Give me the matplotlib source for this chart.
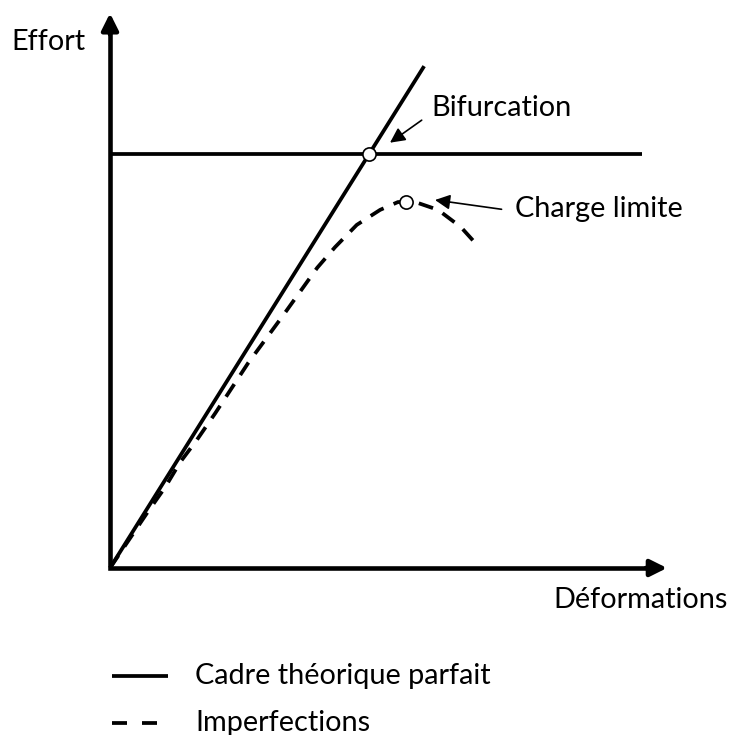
"""Schéma effort / déformations : bifurcation vs charge limite."""

import matplotlib

matplotlib.use("Agg")
import matplotlib.pyplot as plt

plt.rcParams["font.family"] = ["Lato", "DejaVu Sans"]

# data (arbitrary units, origin at the axes corner)
AXIS_X_END = 100.0
AXIS_Y_END = 99.6

perfect_x = [0.0, 56.4]
perfect_y = [0.0, 90.1]

bif_load = 74.3
bif_x_end = 95.5
bif_point = (46.5, 74.3)

imperf_x = [0.0, 6.8, 9.9, 12.6, 15.6, 18.9, 24.8, 30.9, 37.2, 40.4, 44.3, 48.5, 51.7, 54.8, 58.9, 63.0, 65.9]
imperf_y = [0.0, 10.1, 14.5, 19.0, 23.0, 27.8, 36.8, 45.1, 53.9, 57.6, 61.6, 64.3, 65.7, 65.7, 64.3, 61.2, 58.0]
limit_point = (53.1, 65.7)

label_x = "Déformations"
label_y = "Effort"
legend_labels = ["Cadre théorique parfait", "Imperfections"]

FS = 20.8
LW = 2.7
UNIT = 5.57  # pixels per data unit

fig = plt.figure(figsize=(7.31, 7.35), dpi=100)
ax = fig.add_axes([0, 0, 1, 1])
ax.set_xlim(-110 / UNIT, 621 / UNIT)
ax.set_ylim(-167 / UNIT, 568 / UNIT)
ax.axis("off")

# axes with arrows
head = 2.8
ax.plot([0, 0, AXIS_X_END - head], [AXIS_Y_END - head, 0, 0], color="k", lw=3.3,
        solid_joinstyle="miter", solid_capstyle="projecting", zorder=4)
for tip, base in [((0, AXIS_Y_END), (0, AXIS_Y_END - head - 1)), ((AXIS_X_END, 0), (AXIS_X_END - head - 1, 0))]:
    ax.annotate("", xy=tip, xytext=base,
                arrowprops=dict(arrowstyle="-|>,head_length=0.5,head_width=0.25", color="k",
                                lw=3.3, mutation_scale=20, shrinkA=0, shrinkB=0), zorder=4)

ax.text(-17.65, 94.5, label_y, fontsize=FS, va="center", ha="left")
ax.text(79.6, -5.75, label_x, fontsize=FS, va="center", ha="left")

# perfect frame: linear branch + bifurcation plateau
ax.plot(perfect_x, perfect_y, color="k", lw=LW, solid_capstyle="butt", zorder=3)
ax.plot([0, bif_x_end], [bif_load, bif_load], color="k", lw=LW, solid_capstyle="butt", zorder=3)

# imperfect structure
ax.plot(imperf_x, imperf_y, color="k", lw=LW, dashes=(4.0, 2.9), zorder=3)

for p in (bif_point, limit_point):
    ax.plot(*p, "o", ms=9.5, mfc="white", mec="k", mew=1.2, zorder=5)

arrow_kw = dict(arrowstyle="-|>,head_length=0.6,head_width=0.3", color="k", lw=1.2,
                mutation_scale=15, shrinkA=0, shrinkB=0)
ax.annotate("", xy=(50.27, 76.36), xytext=(55.96, 80.4), arrowprops=arrow_kw)
ax.text(57.75, 82.5, "Bifurcation", fontsize=FS, va="center", ha="left")
ax.annotate("", xy=(58.35, 66.07), xytext=(70.3, 64.4), arrowprops=arrow_kw)
ax.text(72.7, 64.4, "Charge limite", fontsize=FS, va="center", ha="left")

# legend drawn by hand
ax.plot([0.36, 10.4], [-19.4, -19.4], color="k", lw=LW, solid_capstyle="butt")
ax.plot([0.36, 8.6], [-27.8, -27.8], color="k", lw=LW, dashes=(4.0, 4.0))
ax.text(15.26, -19.4, legend_labels[0], fontsize=FS, va="center", ha="left")
ax.text(15.26, -27.8, legend_labels[1], fontsize=FS, va="center", ha="left")

fig.savefig("out.png", dpi=100)
